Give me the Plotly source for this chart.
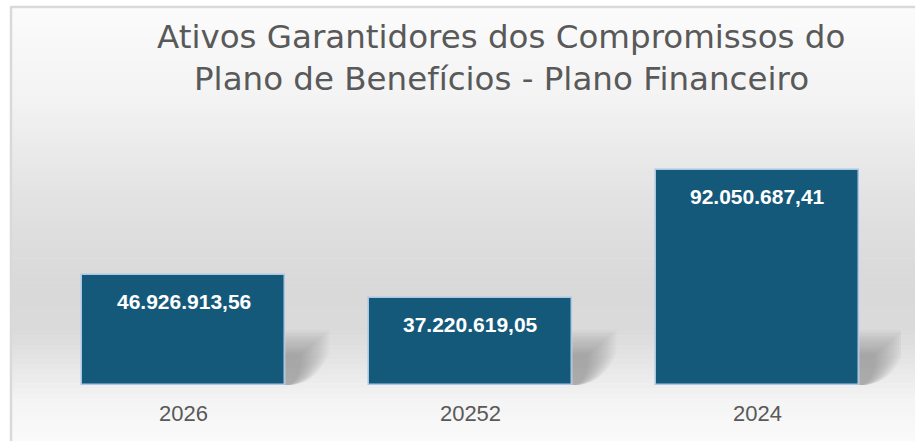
import plotly.graph_objects as go

categories = ["2026", "20252", "2024"]
values = [46926913.56, 37220619.05, 92050687.41]
labels = ["46.926.913,56", "37.220.619,05", "92.050.687,41"]
title_lines = ["Ativos Garantidores dos Compromissos do", "Plano de Benefícios - Plano Financeiro"]

W, H = 915, 441
ML, MR, MT, MB = 40, 14, 128, 56
PW = W - ML - MR
PH = H - MT - MB
YMAX = 110e6


def px_x(p):
    return (p - ML) / PW


def px_y(p):
    return (H - MB - p) / PH


shapes = []
# background gradient (decorative)
stops = [(8, 251), (100, 243), (200, 226), (280, 217), (330, 218), (370, 232), (400, 244), (441, 250)]
n = 90
for k in range(n):
    y0 = 8 + (H - 8) * k / n
    y1 = 8 + (H - 8) * (k + 1) / n + 0.6
    ym = (y0 + y1) / 2
    g = stops[-1][1]
    for (a, ga), (b, gb) in zip(stops, stops[1:]):
        if a <= ym <= b:
            g = ga + (gb - ga) * (ym - a) / (b - a)
            break
    g = int(round(g))
    shapes.append(dict(type="rect", xref="paper", yref="paper", layer="below",
                       x0=px_x(12), x1=px_x(W + 5), y0=px_y(y1), y1=px_y(y0),
                       line=dict(width=0), fillcolor=f"rgb({g},{g},{g})"))
# frame lines
shapes.append(dict(type="line", xref="paper", yref="paper", layer="below",
                   x0=px_x(11), x1=px_x(11), y0=px_y(7), y1=px_y(H + 5),
                   line=dict(color="#d9d9d9", width=2.5)))
shapes.append(dict(type="line", xref="paper", yref="paper", layer="below",
                   x0=px_x(10), x1=px_x(W + 5), y0=px_y(7), y1=px_y(7),
                   line=dict(color="#d9d9d9", width=2.5)))

# soft shadows to the right of each bar (decorative, tied to bar positions)
bw = 0.71
unit = PW / 3
dy = YMAX / PH
nl = 14
for i in range(len(categories)):
    xr = i + bw / 2
    for j in range(nl):
        t = j / (nl - 1)
        ext = 44 * (1 - 0.65 * t) / unit
        top = 55 * (1 - 0.45 * t) * dy
        shapes.append(dict(type="path", xref="x", yref="y", layer="below",
                           path=f"M {xr},0 L {xr},{top} L {xr + ext},{top} "
                                f"L {xr + ext},{top * 0.6} Q {xr + ext * 0.75},{top * 0.05} {xr + ext * 0.15},0 Z",
                           line=dict(width=0), fillcolor="rgba(80,80,80,0.035)"))

fig = go.Figure()
fig.add_trace(go.Bar(
    x=list(range(len(categories))), y=values, width=bw,
    marker=dict(color="#15597a", line=dict(color="#a9c7e3", width=1.5)),
    hoverinfo="skip", showlegend=False,
))

annotations = []
for i, (v, t) in enumerate(zip(values, labels)):
    annotations.append(dict(x=i, y=v, xref="x", yref="y", text=t, showarrow=False,
                            yanchor="top", yshift=-13,
                            font=dict(family="Liberation Sans", size=21, color="white", weight="bold")))
for k, line in enumerate(title_lines):
    annotations.append(dict(x=px_x(501), y=px_y(37 + 42 * k), xref="paper", yref="paper",
                            text=line, showarrow=False, xanchor="center", yanchor="middle",
                            font=dict(family="DejaVu Sans", size=32.5, color="#595959")))

fig.update_layout(
    width=W, height=H,
    margin=dict(l=ML, r=MR, t=MT, b=MB, pad=0),
    paper_bgcolor="white", plot_bgcolor="rgba(0,0,0,0)",
    shapes=shapes, annotations=annotations,
    bargap=0,
    xaxis=dict(tickmode="array", tickvals=list(range(len(categories))), ticktext=categories,
               range=[-0.5, 2.5], showgrid=False, zeroline=False, showline=False, ticks="",
               tickfont=dict(family="Liberation Sans", size=22, color="#595959"), ticklabelstandoff=13),
    yaxis=dict(range=[0, YMAX], visible=False),
)
fig.write_html("out.html", post_script="document.body.style.margin='0px';",
               config={"displayModeBar": False})
